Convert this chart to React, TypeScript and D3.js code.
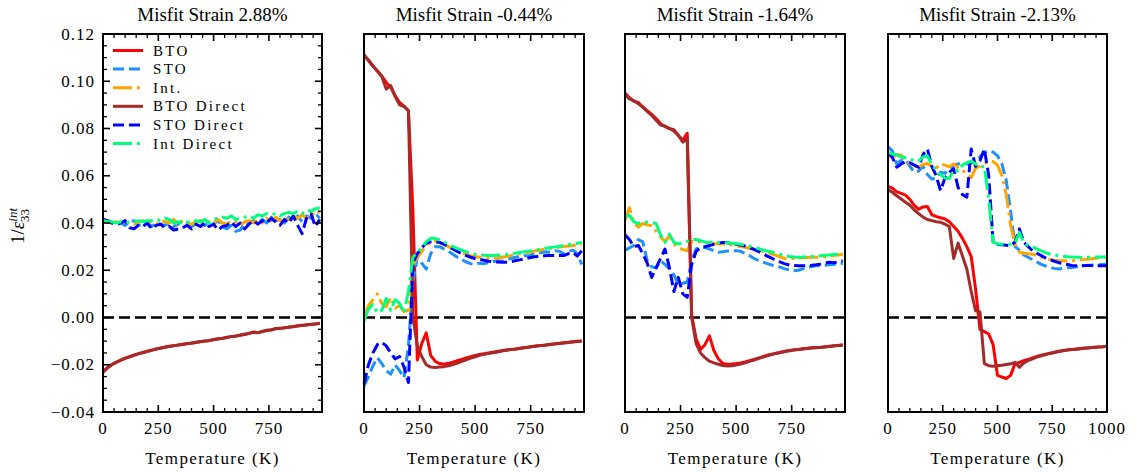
import React from "react";
import * as d3 from "d3";

// ---------------- data ----------------
const TEMPS = [0,20,40,60,80,100,120,140,160,180,200,220,240,260,280,300,320,340,360,380,400,420,440,460,480,500,520,540,560,580,600,620,640,660,680,700,720,740,760,780,800,820,840,860,880,900,920,940,960,980];
const TEMPS_WIDE = [0,20,40,60,80,100,120,140,160,180,200,220,240,260,280,300,320,340,360,380,400,420,440,460,480,500,520,540,560,580,600,620,640,660,680,700,720,740,760,780,800,820,840,860,880,900,920,940,960,980,1000];

const PANEL_TITLES = ["Misfit Strain 2.88%", "Misfit Strain -0.44%", "Misfit Strain -1.64%", "Misfit Strain -2.13%"];
const SERIES_NAMES = ["BTO", "STO", "Int.", "BTO Direct", "STO Direct", "Int Direct"];
const Y_TICKS = [-0.04, -0.02, 0, 0.02, 0.04, 0.06, 0.08, 0.1, 0.12];
const X_TICKS = [0, 250, 500, 750];
const X_TICKS_WIDE = [0, 250, 500, 750, 1000];
const X_LABEL = "Temperature (K)";

// Panel 1: misfit 2.88%
const P1_BTO = [-0.0228,-0.0212,-0.0199,-0.0189,-0.0181,-0.0173,-0.0166,-0.0160,-0.0154,-0.0148,-0.0143,-0.0139,-0.0134,-0.0129,-0.0126,-0.0122,-0.0119,-0.0116,-0.0114,-0.0111,-0.0108,-0.0106,-0.0103,-0.0100,-0.0097,-0.0094,-0.0091,-0.0088,-0.0084,-0.0081,-0.0078,-0.0075,-0.0071,-0.0068,-0.0061,-0.0064,-0.0059,-0.0055,-0.0052,-0.0048,-0.0046,-0.0043,-0.0041,-0.0038,-0.0036,-0.0034,-0.0031,-0.0030,-0.0027,-0.0024];
const P1_STO = [0.0415,0.0410,0.0400,0.0395,0.0400,0.0390,0.0405,0.0410,0.0390,0.0395,0.0400,0.0385,0.0400,0.0395,0.0390,0.0400,0.0385,0.0395,0.0410,0.0400,0.0385,0.0395,0.0410,0.0390,0.0400,0.0395,0.0410,0.0385,0.0375,0.0390,0.0365,0.0370,0.0400,0.0395,0.0410,0.0400,0.0415,0.0400,0.0425,0.0410,0.0415,0.0400,0.0425,0.0410,0.0430,0.0405,0.0430,0.0420,0.0440,0.0420];
const P1_INT = [0.0410,0.0405,0.0400,0.0405,0.0400,0.0405,0.0400,0.0395,0.0405,0.0410,0.0400,0.0405,0.0395,0.0410,0.0405,0.0400,0.0415,0.0390,0.0410,0.0400,0.0395,0.0405,0.0410,0.0390,0.0405,0.0400,0.0415,0.0400,0.0395,0.0410,0.0405,0.0390,0.0405,0.0410,0.0400,0.0415,0.0400,0.0420,0.0410,0.0425,0.0410,0.0420,0.0415,0.0430,0.0420,0.0435,0.0420,0.0440,0.0430,0.0450];
const P1_BTO_DIRECT = [-0.0232,-0.0214,-0.0200,-0.0190,-0.0180,-0.0172,-0.0167,-0.0159,-0.0153,-0.0149,-0.0144,-0.0138,-0.0133,-0.0130,-0.0125,-0.0123,-0.0120,-0.0117,-0.0113,-0.0110,-0.0109,-0.0105,-0.0102,-0.0099,-0.0098,-0.0093,-0.0090,-0.0089,-0.0085,-0.0080,-0.0079,-0.0074,-0.0072,-0.0067,-0.0063,-0.0065,-0.0060,-0.0054,-0.0053,-0.0047,-0.0045,-0.0044,-0.0040,-0.0039,-0.0035,-0.0033,-0.0032,-0.0029,-0.0028,-0.0025];
const P1_STO_DIRECT = [0.0415,0.0410,0.0400,0.0395,0.0400,0.0410,0.0380,0.0375,0.0390,0.0385,0.0400,0.0375,0.0390,0.0395,0.0380,0.0385,0.0370,0.0375,0.0380,0.0390,0.0375,0.0395,0.0385,0.0400,0.0385,0.0395,0.0370,0.0385,0.0390,0.0405,0.0385,0.0400,0.0375,0.0395,0.0410,0.0395,0.0410,0.0400,0.0420,0.0405,0.0390,0.0415,0.0400,0.0430,0.0390,0.0355,0.0420,0.0440,0.0385,0.0415];
const P1_INT_DIRECT = [0.0410,0.0405,0.0405,0.0400,0.0405,0.0400,0.0405,0.0405,0.0410,0.0405,0.0410,0.0410,0.0415,0.0410,0.0420,0.0415,0.0400,0.0405,0.0400,0.0405,0.0400,0.0410,0.0405,0.0415,0.0400,0.0415,0.0420,0.0425,0.0420,0.0430,0.0415,0.0420,0.0425,0.0430,0.0420,0.0435,0.0430,0.0440,0.0435,0.0440,0.0430,0.0440,0.0445,0.0440,0.0450,0.0440,0.0455,0.0450,0.0460,0.0465];

// Panel 2: misfit -0.44%
const P2_BTO = [0.1110,0.1090,0.1066,0.1042,0.1022,0.0995,0.0975,0.0940,0.0910,0.0895,0.0875,0.0450,-0.0180,-0.0110,-0.0065,-0.0160,-0.0185,-0.0195,-0.0198,-0.0194,-0.0189,-0.0183,-0.0177,-0.0171,-0.0166,-0.0161,-0.0157,-0.0153,-0.0150,-0.0147,-0.0144,-0.0141,-0.0138,-0.0135,-0.0133,-0.0130,-0.0128,-0.0126,-0.0123,-0.0120,-0.0118,-0.0116,-0.0113,-0.0111,-0.0109,-0.0107,-0.0105,-0.0103,-0.0101,-0.0099];
const P2_STO = [-0.0290,-0.0250,-0.0205,-0.0170,-0.0195,-0.0225,-0.0240,-0.0200,-0.0225,-0.0255,-0.0120,0.0150,0.0255,0.0230,0.0205,0.0270,0.0300,0.0300,0.0290,0.0280,0.0268,0.0255,0.0245,0.0235,0.0228,0.0225,0.0230,0.0228,0.0232,0.0236,0.0240,0.0238,0.0245,0.0250,0.0255,0.0258,0.0262,0.0260,0.0268,0.0272,0.0275,0.0278,0.0276,0.0282,0.0280,0.0270,0.0280,0.0285,0.0270,0.0225];
const P2_INT = [0.0008,0.0050,0.0075,0.0100,0.0060,0.0045,0.0085,0.0040,0.0050,0.0025,0.0030,0.0220,0.0255,0.0280,0.0305,0.0320,0.0325,0.0318,0.0310,0.0300,0.0290,0.0282,0.0275,0.0268,0.0262,0.0258,0.0255,0.0252,0.0250,0.0250,0.0252,0.0255,0.0258,0.0262,0.0266,0.0270,0.0272,0.0275,0.0280,0.0284,0.0287,0.0290,0.0293,0.0296,0.0298,0.0300,0.0303,0.0305,0.0307,0.0310];
const P2_BTO_DIRECT = [0.1112,0.1088,0.1063,0.1045,0.1020,0.0967,0.0982,0.0935,0.0900,0.0893,0.0875,0.0000,-0.0120,-0.0165,-0.0200,-0.0210,-0.0212,-0.0210,-0.0208,-0.0204,-0.0199,-0.0193,-0.0186,-0.0179,-0.0172,-0.0166,-0.0160,-0.0156,-0.0152,-0.0149,-0.0146,-0.0142,-0.0139,-0.0136,-0.0134,-0.0131,-0.0128,-0.0125,-0.0123,-0.0121,-0.0119,-0.0116,-0.0114,-0.0112,-0.0110,-0.0108,-0.0106,-0.0104,-0.0102,-0.0100];
const P2_STO_DIRECT = [-0.0280,-0.0200,-0.0150,-0.0115,-0.0105,-0.0120,-0.0150,-0.0175,-0.0165,-0.0210,-0.0275,0.0230,0.0270,0.0295,0.0315,0.0320,0.0320,0.0318,0.0310,0.0300,0.0290,0.0280,0.0270,0.0262,0.0255,0.0250,0.0246,0.0242,0.0238,0.0236,0.0235,0.0234,0.0234,0.0236,0.0240,0.0244,0.0248,0.0252,0.0256,0.0258,0.0260,0.0262,0.0262,0.0262,0.0263,0.0262,0.0270,0.0275,0.0260,0.0283];
const P2_INT_DIRECT = [-0.0015,0.0035,0.0055,0.0020,0.0030,0.0080,0.0030,0.0075,0.0060,0.0020,0.0110,0.0255,0.0275,0.0295,0.0320,0.0335,0.0335,0.0328,0.0320,0.0310,0.0300,0.0292,0.0285,0.0278,0.0272,0.0268,0.0265,0.0263,0.0262,0.0262,0.0263,0.0264,0.0266,0.0269,0.0272,0.0275,0.0278,0.0281,0.0284,0.0287,0.0290,0.0293,0.0296,0.0299,0.0302,0.0305,0.0308,0.0311,0.0314,0.0318];

// Panel 3: misfit -1.64%
const P3_BTO = [0.0950,0.0930,0.0915,0.0910,0.0892,0.0875,0.0860,0.0842,0.0820,0.0808,0.0800,0.0790,0.0770,0.0750,0.0780,0.0010,-0.0090,-0.0135,-0.0115,-0.0078,-0.0140,-0.0175,-0.0195,-0.0198,-0.0197,-0.0195,-0.0192,-0.0188,-0.0183,-0.0178,-0.0172,-0.0166,-0.0160,-0.0155,-0.0151,-0.0147,-0.0143,-0.0140,-0.0137,-0.0135,-0.0132,-0.0130,-0.0128,-0.0127,-0.0126,-0.0124,-0.0122,-0.0120,-0.0118,-0.0115];
const P3_STO = [0.0285,0.0295,0.0305,0.0330,0.0320,0.0240,0.0215,0.0210,0.0240,0.0225,0.0205,0.0180,0.0140,0.0145,0.0150,0.0240,0.0290,0.0298,0.0296,0.0290,0.0282,0.0276,0.0278,0.0281,0.0283,0.0283,0.0280,0.0272,0.0262,0.0250,0.0242,0.0235,0.0228,0.0222,0.0218,0.0212,0.0206,0.0201,0.0198,0.0200,0.0206,0.0212,0.0216,0.0219,0.0220,0.0221,0.0223,0.0225,0.0227,0.0230];
const P3_INT = [0.0410,0.0465,0.0400,0.0382,0.0398,0.0392,0.0388,0.0365,0.0340,0.0322,0.0345,0.0312,0.0295,0.0288,0.0283,0.0322,0.0322,0.0320,0.0318,0.0315,0.0313,0.0312,0.0311,0.0310,0.0307,0.0304,0.0300,0.0297,0.0293,0.0290,0.0285,0.0280,0.0275,0.0269,0.0263,0.0256,0.0249,0.0248,0.0250,0.0252,0.0253,0.0254,0.0255,0.0255,0.0256,0.0257,0.0259,0.0262,0.0265,0.0268];
const P3_BTO_DIRECT = [0.0945,0.0925,0.0918,0.0905,0.0890,0.0872,0.0855,0.0835,0.0815,0.0810,0.0800,0.0795,0.0772,0.0742,0.0756,0.0000,-0.0110,-0.0150,-0.0170,-0.0185,-0.0192,-0.0198,-0.0203,-0.0205,-0.0204,-0.0201,-0.0197,-0.0192,-0.0186,-0.0180,-0.0174,-0.0168,-0.0162,-0.0157,-0.0152,-0.0148,-0.0144,-0.0141,-0.0138,-0.0136,-0.0133,-0.0131,-0.0129,-0.0128,-0.0127,-0.0125,-0.0123,-0.0121,-0.0119,-0.0117];
const P3_STO_DIRECT = [0.0350,0.0330,0.0300,0.0305,0.0270,0.0230,0.0170,0.0210,0.0250,0.0290,0.0210,0.0110,0.0170,0.0100,0.0085,0.0225,0.0280,0.0295,0.0300,0.0305,0.0310,0.0315,0.0318,0.0316,0.0313,0.0310,0.0307,0.0303,0.0296,0.0288,0.0280,0.0270,0.0260,0.0251,0.0242,0.0234,0.0227,0.0222,0.0220,0.0219,0.0219,0.0220,0.0221,0.0223,0.0226,0.0230,0.0234,0.0232,0.0236,0.0240];
const P3_INT_DIRECT = [0.0430,0.0432,0.0405,0.0398,0.0405,0.0403,0.0402,0.0398,0.0350,0.0318,0.0353,0.0318,0.0312,0.0315,0.0322,0.0330,0.0330,0.0325,0.0320,0.0318,0.0318,0.0318,0.0317,0.0316,0.0314,0.0312,0.0310,0.0306,0.0302,0.0297,0.0292,0.0286,0.0282,0.0277,0.0272,0.0267,0.0262,0.0258,0.0256,0.0255,0.0256,0.0258,0.0258,0.0259,0.0261,0.0263,0.0265,0.0267,0.0268,0.0270];

// Panel 4: misfit -2.13%
const P4_BTO = [0.0555,0.0548,0.0532,0.0525,0.0518,0.0500,0.0475,0.0458,0.0468,0.0470,0.0435,0.0428,0.0422,0.0417,0.0405,0.0385,0.0365,0.0335,0.0300,0.0258,0.0120,-0.0050,-0.0060,-0.0070,-0.0115,-0.0245,-0.0252,-0.0258,-0.0245,-0.0195,-0.0190,-0.0183,-0.0177,-0.0171,-0.0165,-0.0160,-0.0155,-0.0151,-0.0147,-0.0143,-0.0140,-0.0137,-0.0135,-0.0133,-0.0131,-0.0129,-0.0128,-0.0126,-0.0125,-0.0124,-0.0122];
const P4_STO = [0.0722,0.0705,0.0650,0.0665,0.0668,0.0640,0.0615,0.0620,0.0640,0.0605,0.0586,0.0590,0.0615,0.0610,0.0630,0.0645,0.0650,0.0655,0.0650,0.0655,0.0660,0.0680,0.0700,0.0706,0.0700,0.0685,0.0650,0.0580,0.0450,0.0300,0.0285,0.0265,0.0255,0.0245,0.0235,0.0225,0.0218,0.0212,0.0208,0.0205,0.0208,0.0211,0.0212,0.0215,0.0218,0.0220,0.0221,0.0222,0.0223,0.0224,0.0225];
const P4_INT = [0.0680,0.0678,0.0690,0.0688,0.0665,0.0650,0.0640,0.0636,0.0648,0.0652,0.0640,0.0632,0.0650,0.0645,0.0638,0.0650,0.0635,0.0625,0.0605,0.0592,0.0632,0.0640,0.0650,0.0662,0.0660,0.0645,0.0600,0.0520,0.0390,0.0310,0.0276,0.0272,0.0270,0.0268,0.0262,0.0255,0.0250,0.0245,0.0242,0.0240,0.0240,0.0240,0.0240,0.0242,0.0244,0.0246,0.0248,0.0250,0.0252,0.0254,0.0255];
const P4_BTO_DIRECT = [0.0540,0.0530,0.0515,0.0502,0.0488,0.0475,0.0455,0.0440,0.0425,0.0415,0.0410,0.0405,0.0403,0.0395,0.0385,0.0250,0.0315,0.0260,0.0205,0.0110,0.0028,0.0023,-0.0195,-0.0204,-0.0206,-0.0204,-0.0202,-0.0199,-0.0196,-0.0190,-0.0211,-0.0192,-0.0182,-0.0175,-0.0168,-0.0162,-0.0157,-0.0152,-0.0148,-0.0144,-0.0141,-0.0138,-0.0136,-0.0134,-0.0132,-0.0130,-0.0128,-0.0127,-0.0125,-0.0124,-0.0122];
const P4_STO_DIRECT = [0.0700,0.0678,0.0636,0.0650,0.0660,0.0655,0.0645,0.0636,0.0690,0.0713,0.0640,0.0600,0.0537,0.0590,0.0614,0.0630,0.0551,0.0520,0.0509,0.0713,0.0640,0.0664,0.0713,0.0600,0.0318,0.0310,0.0308,0.0306,0.0304,0.0320,0.0375,0.0320,0.0300,0.0283,0.0272,0.0262,0.0252,0.0245,0.0238,0.0232,0.0228,0.0224,0.0220,0.0219,0.0219,0.0220,0.0220,0.0219,0.0219,0.0219,0.0219];
const P4_INT_DIRECT = [0.0700,0.0692,0.0688,0.0680,0.0676,0.0670,0.0664,0.0662,0.0680,0.0685,0.0645,0.0625,0.0605,0.0590,0.0588,0.0625,0.0620,0.0645,0.0655,0.0662,0.0650,0.0636,0.0640,0.0500,0.0318,0.0312,0.0310,0.0310,0.0310,0.0315,0.0360,0.0315,0.0305,0.0298,0.0290,0.0282,0.0275,0.0268,0.0264,0.0262,0.0259,0.0257,0.0256,0.0255,0.0255,0.0255,0.0255,0.0256,0.0256,0.0256,0.0257];

// ---------------- styling / layout ----------------
const W = 1134, H = 473;
const TOP = 34, BOTTOM = 412;
const PANELS = [
  { left: 103, right: 322, xmax: 990, temps: TEMPS, xticks: X_TICKS, series: [P1_BTO, P1_STO, P1_INT, P1_BTO_DIRECT, P1_STO_DIRECT, P1_INT_DIRECT] },
  { left: 364, right: 584, xmax: 990, temps: TEMPS, xticks: X_TICKS, series: [P2_BTO, P2_STO, P2_INT, P2_BTO_DIRECT, P2_STO_DIRECT, P2_INT_DIRECT] },
  { left: 625, right: 845, xmax: 990, temps: TEMPS, xticks: X_TICKS, series: [P3_BTO, P3_STO, P3_INT, P3_BTO_DIRECT, P3_STO_DIRECT, P3_INT_DIRECT] },
  { left: 888, right: 1107, xmax: 1000, temps: TEMPS_WIDE, xticks: X_TICKS_WIDE, series: [P4_BTO, P4_STO, P4_INT, P4_BTO_DIRECT, P4_STO_DIRECT, P4_INT_DIRECT] },
];
const LW = 3;
const STYLES = [
  { color: "#ff0000", dash: undefined },
  { color: "#1e90ff", dash: `${3.7 * LW} ${1.6 * LW}` },
  { color: "#ffa500", dash: `${6.4 * LW} ${1.6 * LW} ${1 * LW} ${1.6 * LW}` },
  { color: "#a52a2a", dash: undefined },
  { color: "#0000ff", dash: `${3.7 * LW} ${1.6 * LW}` },
  { color: "#00ff7f", dash: `${6.4 * LW} ${1.6 * LW} ${1 * LW} ${1.6 * LW}` },
];
const FONT = "'Liberation Serif', 'Times New Roman', serif";

const yScale = d3.scaleLinear().domain([-0.04, 0.12]).range([BOTTOM, TOP]);
const fmtY = (v: number) => d3.format(".2f")(v).replace("-", "\u2212");

function Panel({ p, idx }: { p: typeof PANELS[number]; idx: number }) {
  const x = d3.scaleLinear().domain([0, p.xmax]).range([p.left, p.right]);
  const minorX = d3.range(0, p.xmax + 1, 50).filter((t) => t % 250 !== 0);
  const line = d3.line<number>().x((_, i) => x(p.temps[i])).y((d) => yScale(d));
  const yMinor = d3.range(-0.04, 0.1201, 0.005).filter((v) => Math.abs(Math.round(v * 1000) % 20) > 0.5);
  return (
    <g>
      <line x1={p.left} x2={p.right} y1={yScale(0)} y2={yScale(0)} stroke="#000" strokeWidth={2.5} strokeDasharray="11 5" />
      {p.series.map((s, i) => (
        <path key={i} d={line(s) || ""} fill="none" stroke={STYLES[i].color} strokeWidth={LW}
          strokeDasharray={STYLES[i].dash} strokeLinejoin="round" />
      ))}
      {p.xticks.map((t) => (
        <g key={"xt" + t}>
          <line x1={x(t)} x2={x(t)} y1={BOTTOM} y2={BOTTOM - 7} stroke="#000" strokeWidth={1.6} />
          <line x1={x(t)} x2={x(t)} y1={TOP} y2={TOP + 7} stroke="#000" strokeWidth={1.6} />
          <text x={x(t)} y={BOTTOM + 22} textAnchor="middle" fontFamily={FONT} fontSize={17} letterSpacing={1}>{t}</text>
        </g>
      ))}
      {minorX.map((t) => (
        <g key={"xm" + t}>
          <line x1={x(t)} x2={x(t)} y1={BOTTOM} y2={BOTTOM - 4} stroke="#000" strokeWidth={1.3} />
          <line x1={x(t)} x2={x(t)} y1={TOP} y2={TOP + 4} stroke="#000" strokeWidth={1.3} />
        </g>
      ))}
      {idx === 0 && (
        <g>
          {Y_TICKS.map((v) => (
            <g key={"yt" + v}>
              <line x1={p.left} x2={p.left + 7} y1={yScale(v)} y2={yScale(v)} stroke="#000" strokeWidth={1.6} />
              <line x1={p.right} x2={p.right - 7} y1={yScale(v)} y2={yScale(v)} stroke="#000" strokeWidth={1.6} />
              <text x={p.left - 8} y={yScale(v) + 5.5} textAnchor="end" fontFamily={FONT} fontSize={17} letterSpacing={1}>{fmtY(v)}</text>
            </g>
          ))}
          {yMinor.map((v) => (
            <g key={"ym" + v}>
              <line x1={p.left} x2={p.left + 4} y1={yScale(v)} y2={yScale(v)} stroke="#000" strokeWidth={1.3} />
              <line x1={p.right} x2={p.right - 4} y1={yScale(v)} y2={yScale(v)} stroke="#000" strokeWidth={1.3} />
            </g>
          ))}
        </g>
      )}
      <rect x={p.left} y={TOP} width={p.right - p.left} height={BOTTOM - TOP} fill="none" stroke="#000" strokeWidth={2} />
      <text x={(p.left + p.right) / 2} y={21} textAnchor="middle" fontFamily={FONT} fontSize={19}>{PANEL_TITLES[idx]}</text>
      <text x={(p.left + p.right) / 2} y={464} textAnchor="middle" fontFamily={FONT} fontSize={17} letterSpacing={1.4}>{X_LABEL}</text>
    </g>
  );
}

function Legend() {
  const x0 = 113, x1 = 143, y0 = 50.5, dy = 18.6;
  return (
    <g>
      {SERIES_NAMES.map((name, i) => (
        <g key={name}>
          <line x1={x0} x2={x1} y1={y0 + i * dy} y2={y0 + i * dy} stroke={STYLES[i].color} strokeWidth={LW} strokeDasharray={STYLES[i].dash} />
          <text x={153} y={y0 + i * dy + 5} fontFamily={FONT} fontSize={15} letterSpacing={2.3}>{name}</text>
        </g>
      ))}
    </g>
  );
}

export default function App() {
  return (
    <svg width={W} height={H} viewBox={`0 0 ${W} ${H}`} style={{ position: "absolute", left: 0, top: 0, background: "#fff" }}>
      <rect x={0} y={0} width={W} height={H} fill="#fff" />
      {PANELS.map((p, i) => <Panel key={i} p={p} idx={i} />)}
      <Legend />
      <g transform="translate(24,226) rotate(-90)">
        <text textAnchor="middle" fontFamily={FONT} fontSize={19}>
          <tspan>1/</tspan>
          <tspan fontStyle="italic">ε</tspan>
          <tspan fontSize={13} fontStyle="italic" dy={-7}>int</tspan>
          <tspan fontSize={13} dx={-14} dy={12}>33</tspan>
        </text>
      </g>
    </svg>
  );
}
